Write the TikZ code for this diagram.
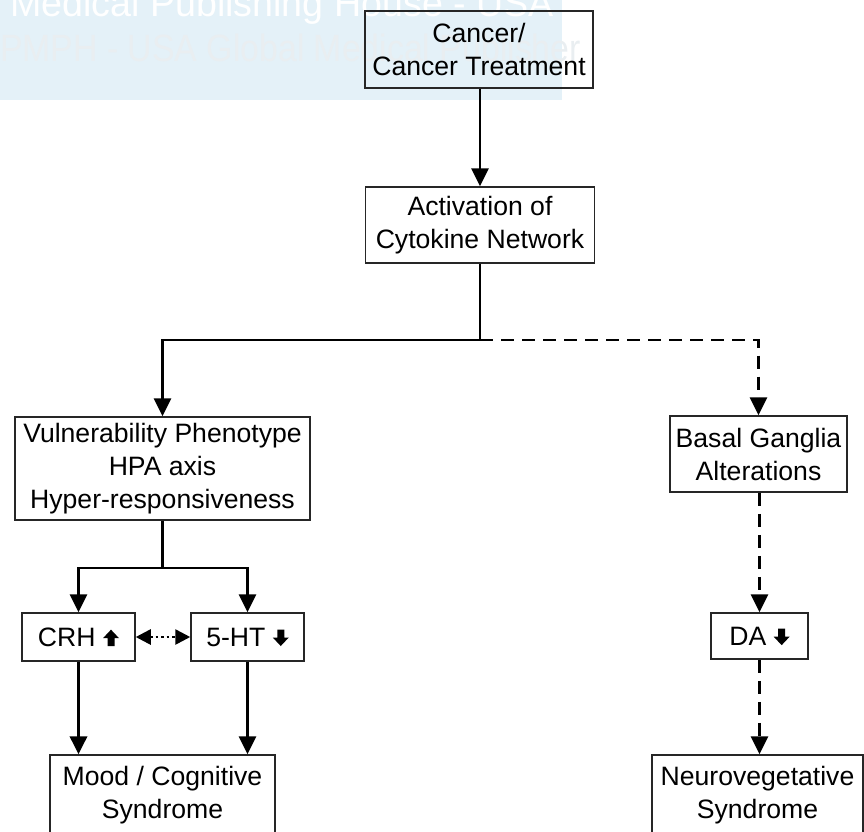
\documentclass[tikz,border=0pt]{standalone}
\usepackage{fontspec}
\setmainfont{Liberation Sans}
\usetikzlibrary{arrows.meta}
\definecolor{wmblue}{RGB}{228,241,248}
\definecolor{wmgrey}{RGB}{233,238,241}
\newcommand{\uparrowglyph}{\tikz[x=1pt,y=1pt,baseline=0pt]\fill[black] (4.5,0) -- (11.5,0) -- (11.5,8) -- (16,8) -- (8,16.5) -- (0,8) -- (4.5,8) -- cycle;}
\newcommand{\downarrowglyph}{\tikz[x=1pt,y=1pt,baseline=0pt]\fill[black] (4.5,16.5) -- (11.5,16.5) -- (11.5,8.5) -- (16,8.5) -- (8,0) -- (0,8.5) -- (4.5,8.5) -- cycle;}
\tikzset{
  box/.style={draw=black!85, line width=1.5pt, align=center, inner sep=0pt,
    font=\fontsize{26.6}{33}\selectfont},
  tipA/.tip={Triangle[length=18pt,width=17pt]},
  conn/.style={line width=2.9pt, draw=black},
  solidarrow/.style={conn, -tipA},
  dasharrow/.style={conn, dash pattern=on 13pt off 8pt, -tipA},
  dotarrow/.style={line width=2.6pt, dash pattern=on 2.5pt off 3pt,
    {Triangle[length=15pt,width=15pt]}-{Triangle[length=15pt,width=15pt]}},
  wmtext/.style={anchor=base west, inner sep=0pt,
    font=\fontsize{38}{38}\selectfont}
}
\begin{document}
\begin{tikzpicture}[x=1pt,y=-1pt]
\useasboundingbox (0,0) rectangle (864,831);
% watermark
\fill[wmblue] (0,0) rectangle (562,100);
\node[wmtext, text=white, xscale=0.99] (wm1) at (10,16) {Medical Publishing House - USA};
\node[wmtext, text=wmgrey, xscale=0.89] (wm2) at (0,61) {PMPH - USA Global Medical Publisher};
% boxes
\node[box, minimum width=228pt, minimum height=77pt] (cancer) at (479,49.5) {Cancer/\\Cancer Treatment};
\node[box, minimum width=229pt, minimum height=76pt] (act) at (480,225) {Activation of\\Cytokine Network};
\node[box, minimum width=295pt, minimum height=103pt] (vul) at (162.5,468.5) {Vulnerability Phenotype\\HPA axis\\Hyper-responsiveness};
\node[box, minimum width=177pt, minimum height=76pt] (basal) at (758.5,454) {Basal Ganglia\\Alterations};
\node[box, minimum width=113pt, minimum height=48pt] (crh) at (78.5,637) {CRH \uparrowglyph};
\node[box, minimum width=113pt, minimum height=48pt] (ht) at (247.5,637) {5-HT \downarrowglyph};
\node[box, minimum width=97pt, minimum height=46pt] (da) at (759.5,636) {DA \downarrowglyph};
\node[box, minimum width=225pt, minimum height=80pt] (mood) at (162.5,795) {Mood / Cognitive\\Syndrome};
\node[box, minimum width=211pt, minimum height=80pt] (neuro) at (757.5,795) {Neurovegetative\\Syndrome};
% junctions
\coordinate (j1) at (480,340);
\coordinate (j2) at (162.5,568);
% connectors
\draw[solidarrow] (cancer.south -| act.north) -- (act.north);
\draw[conn] (act.south) -- (j1);
\draw[solidarrow] (j1) -| (vul.north);
\draw[dasharrow] (j1) -| (basal.north);
\draw[conn] (vul.south) -- (j2);
\draw[solidarrow] (j2) -| (crh.north);
\draw[solidarrow] (j2) -| (ht.north);
\draw[dotarrow] (crh.east) -- (ht.west);
\draw[conn, line width=3.6pt, -tipA] (crh.south) -- (crh.south |- mood.north);
\draw[solidarrow] (ht.south) -- (ht.south |- mood.north);
\draw[dasharrow] (basal.south -| da.north) -- (da.north);
\draw[dasharrow] (da.south) -- (da.south |- neuro.north);
\end{tikzpicture}
\end{document}
